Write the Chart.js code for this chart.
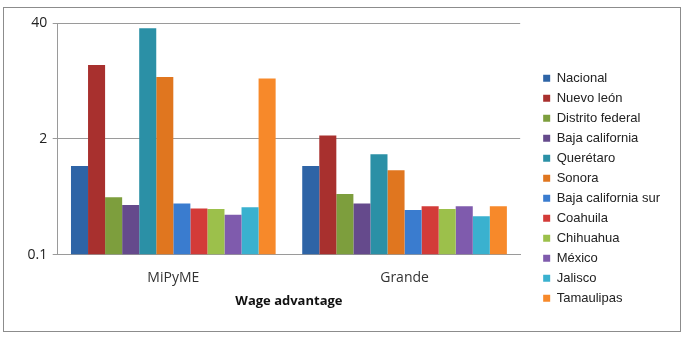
<!DOCTYPE html>
<html>
<head>
<meta charset="utf-8">
<script src="https://cdn.jsdelivr.net/npm/chart.js@4/dist/chart.umd.min.js"></script>
<style>
  body { margin: 0; background: #fff; }
  #box { position: absolute; left: 3px; top: 7px; width: 676px; height: 323px; border: 1px solid #8c8c8c; }
  canvas { display: block; }
</style>
</head>
<body>
<div id="box"><canvas id="wageChart" width="676" height="323"></canvas></div>
<script>
// Chart data
const categories = ["MiPyME", "Grande"];
const states = ["Nacional", "Nuevo león", "Distrito federal", "Baja california", "Querétaro", "Sonora",
    "Baja california sur", "Coahuila", "Chihuahua", "México", "Jalisco", "Tamaulipas"];
const mipymeValues = [0.99, 13.5, 0.44, 0.36, 35, 9.9, 0.375, 0.33, 0.325, 0.28, 0.34, 9.5];
const grandeValues = [0.99, 2.18, 0.48, 0.375, 1.34, 0.885, 0.317, 0.35, 0.325, 0.35, 0.27, 0.35];
const yTicks = [0.1, 2, 40];
const colors = ['#2e64a6', '#a8302e', '#7d9e3d', '#654a8c', '#2b90a6', '#e0761f',
    '#3a7ccf', '#d33b38', '#9cc04b', '#7f5bad', '#3ab1cf', '#f7892a'];

const datasets = states.map((name, i) => ({
    label: name,
    data: [mipymeValues[i], grandeValues[i]],
    backgroundColor: colors[i],
    borderWidth: 0
}));

// leave some white space between the plot and the legend
const GAP = 16;
const legendGap = {
    id: 'legendGap',
    beforeInit(chart) {
        const legend = chart.legend;
        const fit = legend.fit.bind(legend);
        legend.fit = function () { fit(); this.width += GAP; };
    },
    afterLayout(chart) { chart.legend.left += GAP; }
};

const ctx = document.getElementById('wageChart').getContext('2d');
new Chart(ctx, {
    type: 'bar',
    data: { labels: categories, datasets: datasets },
    plugins: [legendGap],
    options: {
        responsive: false,
        animation: false,
        layout: { padding: { top: 15, left: 18, right: 10, bottom: 18 } },
        datasets: { bar: { barPercentage: 1, categoryPercentage: 0.885 } },
        scales: {
            x: {
                grid: { display: false, drawTicks: false },
                border: { color: '#9a9a9a' },
                ticks: { color: '#333', font: { family: 'Open Sans', size: 14 }, padding: 15 },
                title: { display: true, text: 'Wage advantage', color: '#111',
                    font: { family: 'Open Sans', size: 13, weight: 'bold' }, padding: { top: -8 } }
            },
            y: {
                type: 'logarithmic',
                min: 0.1,
                max: 40,
                afterBuildTicks: axis => { axis.ticks = yTicks.map(v => ({ value: v })); },
                grid: { color: '#9a9a9a', tickLength: 5 },
                border: { color: '#9a9a9a' },
                ticks: { color: '#222', font: { family: 'Open Sans', size: 14 }, padding: 5.5,
                    callback: v => String(v) }
            }
        },
        plugins: {
            legend: {
                position: 'right',
                title: { display: true, text: '', padding: { top: 26 } },
                labels: { boxWidth: 7, boxHeight: 7, padding: 7, color: '#222',
                    font: { family: 'Liberation Sans', size: 13 } }
            },
            tooltip: { enabled: false }
        }
    }
});
</script>
</body>
</html>
